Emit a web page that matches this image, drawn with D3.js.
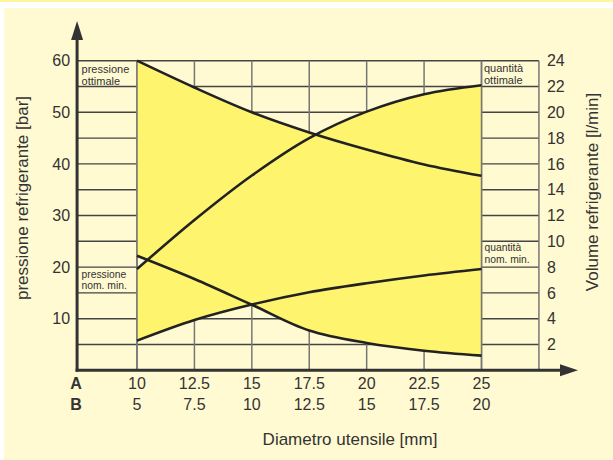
<!DOCTYPE html>
<html>
<head>
<meta charset="utf-8">
<script src="https://cdn.jsdelivr.net/npm/d3@7"></script>
<style>
  body { margin: 0; background: #fff; }
  text { font-family: "Liberation Sans", Arial, sans-serif; fill: #333; }
</style>
</head>
<body>
<svg id="chart"></svg>
<script>
let width = 613;
let height = 460;

// diameter rows (A / B)
const diamA = [10, 12.5, 15, 17.5, 20, 22.5, 25];
const diamB = [5, 7.5, 10, 12.5, 15, 17.5, 20];

// pressure curves [bar]
const pressOtt = [60, 54.8, 50, 46.1, 42.8, 39.9, 37.7];
const pressMin = [22.2, 17.7, 12.7, 7.7, 5.3, 3.8, 2.85];

// volume curves [l/min]
const qtaOtt = [7.85, 11.65, 15.1, 18.0, 20.05, 21.4, 22.1];
const qtaMin = [2.3, 3.9, 5.1, 6.05, 6.75, 7.35, 7.85];

const pressTicks = [10, 20, 30, 40, 50, 60];
const qtaTicks = [2, 4, 6, 8, 10, 12, 14, 16, 18, 20, 22, 24];

let x = d3.scaleLinear().domain([10, 25]).range([137, 481.5]);
let y = d3.scaleLinear().domain([0, 60]).range([370.3, 60.7]);
let yR = d3.scaleLinear().domain([0, 24]).range([370.3, 60.7]);

let axisX = x(7.5) - 2.5;
let gridRight = x(27.5);

let svg = d3.select('#chart').attr('width', width).attr('height', height);

// background
svg.append('rect').attr('x', 0).attr('y', 0).attr('width', width).attr('height', 2).attr('fill', '#fff59b');
svg.append('rect').attr('x', 4).attr('y', 8).attr('width', width - 4).attr('height', height - 8).attr('fill', '#fffad2');

// grid
let grid = svg.append('g');
grid.selectAll('line.h')
  .data(qtaTicks)
  .enter()
  .append('line')
  .attr('x1', axisX)
  .attr('x2', gridRight)
  .attr('y1', d => yR(d))
  .attr('y2', d => yR(d))
  .attr('stroke', '#444')
  .attr('stroke-width', 1.4);

grid.selectAll('line.v')
  .data(diamA.concat([27.5]))
  .enter()
  .append('line')
  .attr('x1', d => x(d))
  .attr('x2', d => x(d))
  .attr('y1', yR(24))
  .attr('y2', y(0))
  .attr('stroke', '#777')
  .attr('stroke-width', 1.5);

// yellow bands
let rowsP = diamA.map((d, i) => ({ d: d, hi: y(pressOtt[i]), lo: y(pressMin[i]) }));
let rowsQ = diamA.map((d, i) => ({ d: d, hi: yR(qtaOtt[i]), lo: yR(qtaMin[i]) }));

let smooth = d3.curveCatmullRom.alpha(0.5);

let band = d3.area()
  .x(d => x(d.d))
  .y0(d => d.lo)
  .y1(d => d.hi)
  .curve(smooth);

svg.append('path').attr('d', band(rowsP)).attr('fill', '#fff46e');
svg.append('path').attr('d', band(rowsQ)).attr('fill', '#fff46e');

// band edges
svg.selectAll('line.edge')
  .data([10, 25])
  .enter()
  .append('line')
  .attr('x1', d => x(d))
  .attr('x2', d => x(d))
  .attr('y1', yR(24))
  .attr('y2', y(0))
  .attr('stroke', '#777')
  .attr('stroke-width', 1.5);

// curves
let lineP = d3.line().x((d, i) => x(diamA[i])).y(d => y(d)).curve(smooth);
let lineQ = d3.line().x((d, i) => x(diamA[i])).y(d => yR(d)).curve(smooth);

[lineP(pressOtt), lineP(pressMin), lineQ(qtaOtt), lineQ(qtaMin)].forEach(p => {
  svg.append('path')
    .attr('d', p)
    .attr('fill', 'none')
    .attr('stroke', '#222')
    .attr('stroke-width', 2.6);
});

// axes lines with arrows
svg.append('line')
  .attr('x1', axisX).attr('x2', axisX)
  .attr('y1', y(0) + 1.5).attr('y2', 38)
  .attr('stroke', '#333').attr('stroke-width', 3);
svg.append('path')
  .attr('d', `M${axisX - 6},40 L${axisX},21 L${axisX + 6},40 Z`)
  .attr('fill', '#333');

svg.append('line')
  .attr('x1', axisX - 1.5).attr('x2', 562)
  .attr('y1', y(0)).attr('y2', y(0))
  .attr('stroke', '#333').attr('stroke-width', 3);
svg.append('path')
  .attr('d', `M560,${y(0) - 6} L578,${y(0)} L560,${y(0) + 6} Z`)
  .attr('fill', '#333');

// tick labels
let leftAxis = d3.axisLeft(y).tickValues(pressTicks).tickSize(0).tickPadding(7);
svg.append('g')
  .attr('transform', `translate(${axisX},0)`)
  .call(leftAxis)
  .call(g => g.select('.domain').remove())
  .selectAll('text')
  .style('font-size', '16px')
  .style('font-family', '"Liberation Sans", Arial, sans-serif')
  .attr('fill', '#333');

let rightAxis = d3.axisRight(yR).tickValues(qtaTicks).tickSize(0).tickPadding(8);
svg.append('g')
  .attr('transform', `translate(${gridRight},0)`)
  .call(rightAxis)
  .call(g => g.select('.domain').remove())
  .selectAll('text')
  .style('font-size', '16px')
  .style('font-family', '"Liberation Sans", Arial, sans-serif')
  .attr('fill', '#333');

// bottom rows
svg.append('text').attr('x', 76).attr('y', 389).attr('text-anchor', 'middle')
  .style('font-size', '16px').style('font-weight', 'bold').text('A');
svg.append('text').attr('x', 76).attr('y', 410).attr('text-anchor', 'middle')
  .style('font-size', '16px').style('font-weight', 'bold').text('B');

svg.selectAll('text.rowA')
  .data(diamA)
  .enter()
  .append('text')
  .attr('x', d => x(d))
  .attr('y', 389)
  .attr('text-anchor', 'middle')
  .style('font-size', '16px')
  .text(d => d);

svg.selectAll('text.rowB')
  .data(diamB)
  .enter()
  .append('text')
  .attr('x', (d, i) => x(diamA[i]))
  .attr('y', 410)
  .attr('text-anchor', 'middle')
  .style('font-size', '16px')
  .text(d => d);

// titles
svg.append('text')
  .attr('x', 350).attr('y', 445).attr('text-anchor', 'middle')
  .style('font-size', '17px').text('Diametro utensile [mm]');
svg.append('text')
  .attr('transform', 'translate(28,198) rotate(-90)')
  .attr('text-anchor', 'middle')
  .style('font-size', '17px').text('pressione refrigerante [bar]');
svg.append('text')
  .attr('transform', 'translate(598,192) rotate(-90)')
  .attr('text-anchor', 'middle')
  .style('font-size', '17px').text('Volume refrigerante [l/min]');

// cell labels
function cellLabel(x0, y0, lines, size, gap) {
  lines.forEach((t, i) => {
    svg.append('text')
      .attr('x', x0)
      .attr('y', y0 + i * gap)
      .style('font-size', size + 'px')
      .attr('fill', '#444')
      .text(t);
  });
}
cellLabel(axisX + 4.5, 73, ['pressione', 'ottimale'], 11, 12.4);
cellLabel(axisX + 4.5, 277.5, ['pressione', 'nom. min.'], 10.3, 11.8);
cellLabel(x(25) + 2.5, 71.5, ['quantità', 'ottimale'], 11, 12.2);
cellLabel(x(25) + 3, 250.8, ['quantità', 'nom. min.'], 10.3, 11.8);
</script>
</body>
</html>
